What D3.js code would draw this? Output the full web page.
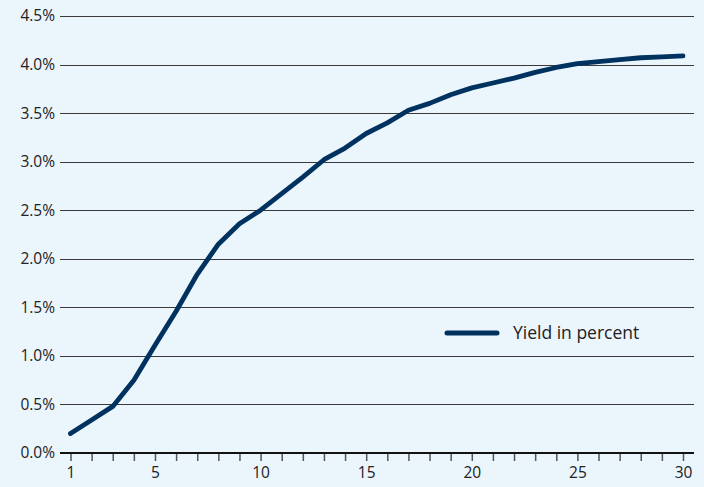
<!DOCTYPE html>
<html><head><meta charset="utf-8">
<script src="https://cdn.jsdelivr.net/npm/d3@7"></script>
<style>
html,body{margin:0;padding:0;background:#EBF5FC;}
svg{display:block;}
text{font-family:"Open Sans","Noto Sans",sans-serif;fill:#222;}
</style></head>
<body>
<svg id="chart" width="704" height="487"></svg>
<script>
const years = d3.range(1, 31);
const yieldPct = [0.20,0.34,0.48,0.75,1.11,1.46,1.84,2.15,2.36,2.50,2.67,2.84,3.02,3.14,3.29,3.40,3.53,3.60,3.69,3.76,3.81,3.86,3.92,3.97,4.01,4.03,4.05,4.07,4.08,4.09];
const yTicks = [0,0.5,1,1.5,2,2.5,3,3.5,4,4.5];
const xTickLabels = [1,5,10,15,20,25,30];
const seriesName = "Yield in percent";

(function(){
const svg = d3.select("#chart");
const mLeft = 60, mRight = 694, mTop = 16, mBottom = 453;
const x = d3.scaleLinear().domain([1,30]).range([70.5,683]);
const y = d3.scaleLinear().domain([0,4.5]).range([mBottom, mTop]);

// gridlines
svg.append("g").selectAll("line").data(yTicks.filter(d=>d>0)).join("line")
  .attr("x1", mLeft).attr("x2", mRight)
  .attr("y1", d=>Math.round(y(d))+0.5).attr("y2", d=>Math.round(y(d))+0.5)
  .attr("stroke", "#3a3a3a").attr("stroke-width", 1);

// y labels
svg.append("g").selectAll("text").data(yTicks).join("text")
  .attr("x", 55).attr("y", d=>y(d)).attr("dy","0.35em")
  .attr("text-anchor","end").attr("font-size", 15.5)
  .text(d=>d3.format(".1f")(d)+"%");

// x axis
const xAxis = d3.axisBottom(x).tickValues(years).tickSize(8).tickPadding(6)
  .tickFormat(d=> xTickLabels.includes(d) ? d : "");
const gx = svg.append("g").attr("transform", `translate(0,${mBottom})`).call(xAxis);
gx.select(".domain").remove();
gx.selectAll(".tick line").attr("stroke","#555").attr("stroke-width",1.5);
gx.selectAll(".tick text").attr("font-size",15.5).attr("font-family",'"Open Sans","Noto Sans",sans-serif').attr("fill","#222");
svg.append("line").attr("x1",mLeft).attr("x2",mRight).attr("y1",mBottom).attr("y2",mBottom)
  .attr("stroke","#111").attr("stroke-width",2);

// line
const line = d3.line().x((d,i)=>x(years[i])).y(d=>y(d));
svg.append("path").datum(yieldPct).attr("d", line)
  .attr("fill","none").attr("stroke","#00325F").attr("stroke-width",4.8)
  .attr("stroke-linejoin","round").attr("stroke-linecap","round");

// legend
const lg = svg.append("g").attr("transform","translate(447,333)");
lg.append("line").attr("x1",0).attr("x2",50).attr("y1",0).attr("y2",0)
  .attr("stroke","#00325F").attr("stroke-width",5).attr("stroke-linecap","round");
lg.append("text").attr("x",66).attr("y",0).attr("dy","0.35em").attr("font-size",17.5).text(seriesName);
})();
</script>
</body></html>
